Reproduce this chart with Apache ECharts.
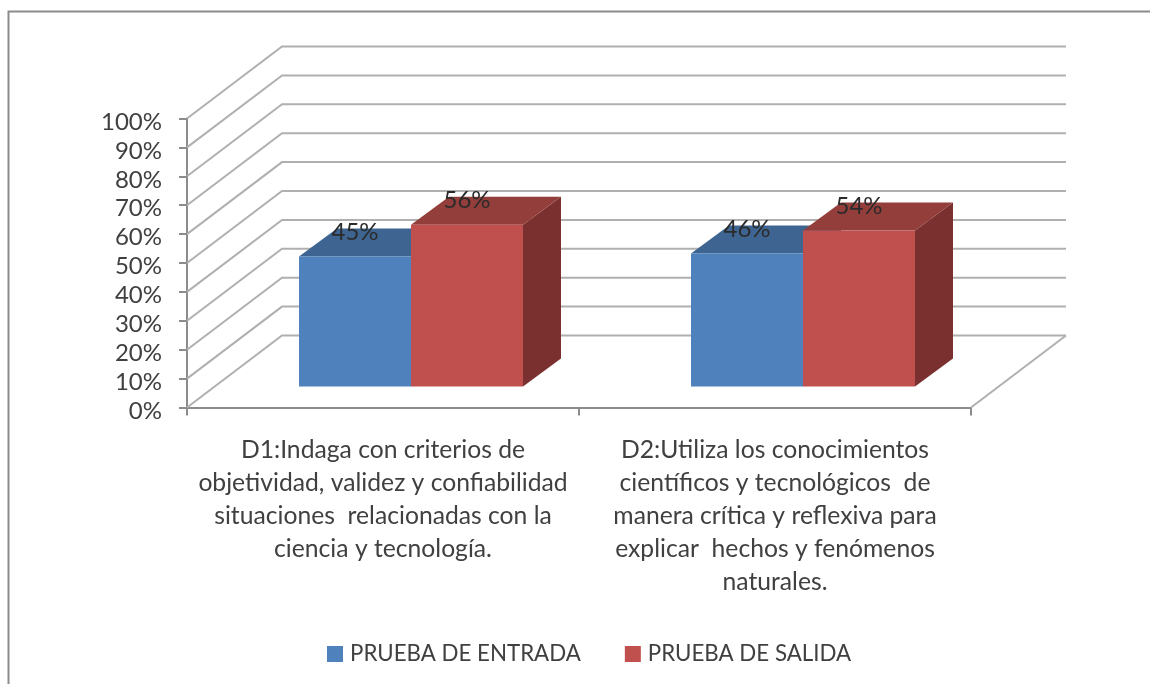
<!DOCTYPE html>
<html><head><meta charset="utf-8">
<style>html,body{margin:0;padding:0;background:#fff;overflow:hidden}#c{width:1150px;height:684px;filter:blur(0.5px)}</style>
<script src="https://cdn.jsdelivr.net/npm/echarts@6/dist/echarts.min.js"></script>
</head><body><div id="c"></div>
<script>
const categories = [
  "D1:Indaga con criterios de\nobjetividad, validez y confiabilidad\nsituaciones  relacionadas con la\nciencia y tecnología.",
  "D2:Utiliza los conocimientos\ncientíficos y tecnológicos  de\nmanera crítica y reflexiva para\nexplicar  hechos y fenómenos\nnaturales."
];
const seriesNames = ["PRUEBA DE ENTRADA", "PRUEBA DE SALIDA"];
const entrada = [45, 46];
const salida = [56, 54];
const gridTicks = [0, 10, 20, 30, 40, 50, 60, 70, 80, 90, 100];

const FONT = 'Lato, "Open Sans", sans-serif';
const WALL = [95, -72], BASE = [28, -21], DEPTH = [38, -28];

function wallItem(params, api) {
  const v = api.value(0);
  const band = api.size([1, 0])[0];
  const p = api.coord([0, v]);
  const x0 = p[0] - band / 2, y0 = p[1];
  const x1 = x0 + WALL[0], y1 = y0 + WALL[1];
  const x2 = x0 + band * 2 + WALL[0];
  const style = { stroke: '#b0b0b0', lineWidth: 2, fill: null };
  const children = [{ type: 'polyline', shape: { points: [[x0, y0], [x1, y1], [x2, y1]] }, style }];
  if (v === 0) {
    children.push({ type: 'polyline', shape: { points: [[x2, y1], [x0 + band * 2, y0]] }, style });
  }
  return { type: 'group', children };
}

function barRenderer(seriesIdx, front, top, side) {
  return function (params, api) {
    const cat = api.value(0), val = api.value(1);
    const band = api.size([1, 0])[0];
    const w = band / 3.5;
    const c = api.coord([cat, val]), z = api.coord([cat, 0]);
    const xl = c[0] + BASE[0] + (seriesIdx - 1) * w, xr = xl + w;
    const yt = c[1] + BASE[1], yb = z[1] + BASE[1];
    const dx = DEPTH[0], dy = DEPTH[1];
    return {
      type: 'group',
      children: [
        { type: 'polygon', shape: { points: [[xr, yt], [xr + dx, yt + dy], [xr + dx, yb + dy], [xr, yb]] }, style: { fill: side } },
        { type: 'polygon', shape: { points: [[xl, yt], [xl + dx, yt + dy], [xr + dx, yt + dy], [xr, yt]] }, style: { fill: top } },
        { type: 'rect', shape: { x: xl, y: yt, width: w, height: yb - yt }, style: { fill: front } },
        { type: 'text', z2: 10, style: { x: (xl + xr) / 2, y: yt - 24, text: val + '%', fill: '#2b2b2b', font: '24px ' + FONT, align: 'center', verticalAlign: 'middle' } }
      ]
    };
  };
}

const chart = echarts.init(document.getElementById('c'));
chart.setOption({
  backgroundColor: '#fff',
  animation: false,
  graphic: [{
    type: 'polyline', silent: true,
    shape: { points: [[8.5, 684], [8.5, 11.5], [1150, 11.5]] },
    style: { stroke: '#8c8c8c', lineWidth: 2, fill: null }
  }],
  grid: { left: 187, right: 179, top: 118.5, bottom: 276.5 },
  legend: {
    left: 322, top: 638, itemWidth: 16, itemHeight: 16, itemGap: 44,
    icon: 'rect',
    data: seriesNames,
    textStyle: { fontFamily: FONT, fontSize: 22.3, color: '#404040', padding: [0, 0, 0, 2] }
  },
  xAxis: {
    type: 'category', data: categories,
    axisLine: { lineStyle: { color: '#8c8c8c', width: 2 } },
    axisTick: { show: true, alignWithLabel: false, length: 8, lineStyle: { color: '#8c8c8c', width: 2 } },
    axisLabel: { fontFamily: FONT, fontSize: 24.7, color: '#404040', lineHeight: 33, margin: 26, interval: 0, hideOverlap: false }
  },
  yAxis: {
    type: 'value', min: 0, max: 100, interval: 10,
    axisLine: { show: true, lineStyle: { color: '#8c8c8c', width: 2 } },
    axisTick: { show: true, length: 8, lineStyle: { color: '#8c8c8c', width: 2 } },
    splitLine: { show: false },
    axisLabel: { formatter: '{value}%', fontFamily: FONT, fontSize: 24, color: '#404040', margin: 25, padding: [0, 0, 0, 0], verticalAlign: 'top', lineHeight: 7 }
  },
  series: [
    { type: 'custom', name: 'planos', silent: true, clip: false, z: 1, data: gridTicks.map(v => [v]), encode: { y: 0 }, renderItem: wallItem },
    { type: 'custom', name: seriesNames[0], clip: false, z: 2, itemStyle: { color: '#4f81bd' },
      data: entrada.map((v, i) => [i, v]), encode: { x: 0, y: 1 },
      renderItem: barRenderer(0, '#4f81bd', '#3e6591', '#345478') },
    { type: 'custom', name: seriesNames[1], clip: false, z: 3, itemStyle: { color: '#c0504d' },
      data: salida.map((v, i) => [i, v]), encode: { x: 0, y: 1 },
      renderItem: barRenderer(1, '#c0504d', '#933e3b', '#7a302f') }
  ]
});
</script></body></html>
